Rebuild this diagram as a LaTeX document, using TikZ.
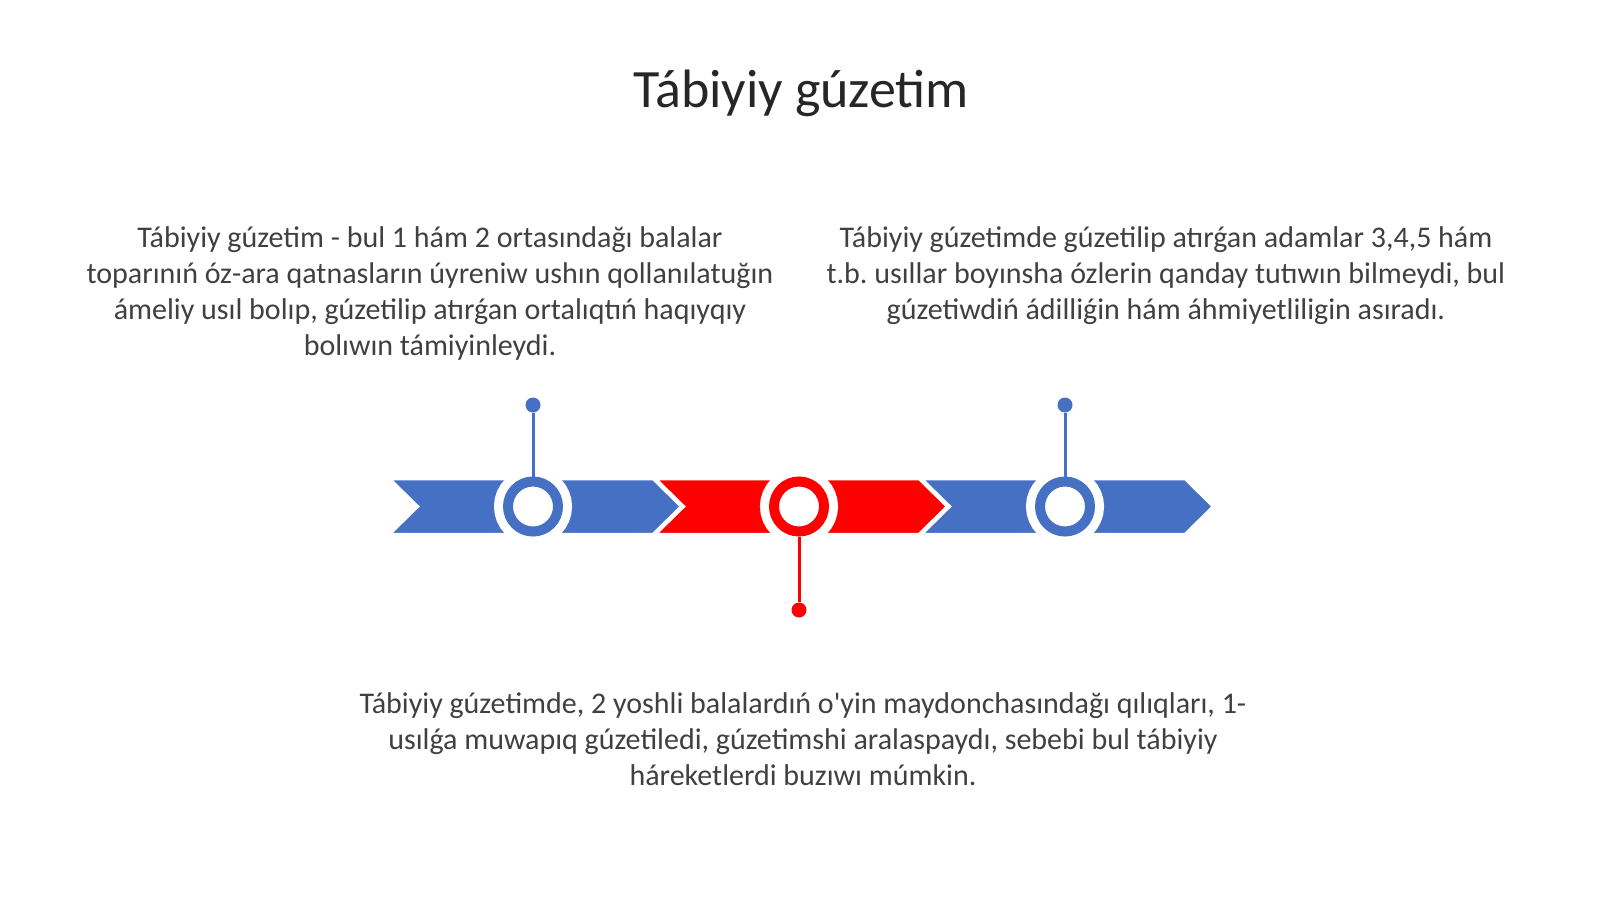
\documentclass[tikz,border=0pt]{standalone}
\usepackage{fontspec}
\setmainfont{Carlito}
\frenchspacing
\usetikzlibrary{calc}
\definecolor{tlblue}{HTML}{4570C4}
\definecolor{tlred}{HTML}{FF0000}
\definecolor{txtgray}{HTML}{404040}
\tikzset{
    ring/.style = {circle, inner sep=0pt, minimum size=50pt, line width=10pt,
        draw=#1, fill=white, preaction={draw=white, line width=28pt}},
    dot/.style = {circle, inner sep=0pt, minimum size=15pt, fill=#1},
    stem/.style = {draw=#1, line width=3pt},
    chevron/.style = {fill=#1, draw=white, line width=2.5pt, line join=miter},
    para/.style = {align=center, text=txtgray, inner sep=0pt,
        font=\fontsize{30}{35.7}\selectfont}
}

\begin{document}
\begin{tikzpicture}[x=1pt, y=-1pt]
    \useasboundingbox (0,0) rectangle (1600,899);
    % title
    \node [text=black!85, font=\fontsize{54}{60}\selectfont, inner sep=0pt] (title) at (801,93) {Tábiyiy gúzetim};
    % arrow band
    \foreach \i/\col in {0/tlblue,1/tlred,2/tlblue}{
        \pgfmathsetmacro{\xo}{390+266*\i}
        \fill [chevron=\col] (\xo,479) -- (\xo+263,479) -- (\xo+291,506.5)
            -- (\xo+263,534) -- (\xo,534) -- (\xo+28,506.5) -- cycle;
    }
    % rings and pins
    \node [ring=tlblue] (ring1) at (533,506.5) {};
    \node [ring=tlred]  (ring2) at (799,506.5) {};
    \node [ring=tlblue] (ring3) at (1065,506.5) {};
    \node [dot=tlblue] (pin1) at (533,405) {};
    \node [dot=tlred]  (pin2) at (799,610) {};
    \node [dot=tlblue] (pin3) at (1065,405) {};
    \draw [stem=tlblue] (pin1) -- (ring1);
    \draw [stem=tlred]  (ring2) -- (pin2);
    \draw [stem=tlblue] (pin3) -- (ring3);
    % texts
    \node [para] (textleft) at (430,293.5) {Tábiyiy gúzetim - bul 1 hám 2 ortasındağı balalar\\
        toparınıń óz-ara qatnasların úyreniw ushın qollanılatuğın\\
        ámeliy usıl bolıp, gúzetilip atırǵan ortalıqtıń haqıyqıy\\
        bolıwın támiyinleydi.};
    \node [para] (textright) at (1166,275.5) {Tábiyiy gúzetimde gúzetilip atırǵan adamlar 3,4,5 hám\\
        t.b. usıllar boyınsha ózlerin qanday tutıwın bilmeydi, bul\\
        gúzetiwdiń ádilliǵin hám áhmiyetliligin asıradı.};
    \node [para] (textbottom) at (803,739) {Tábiyiy gúzetimde, 2 yoshli balalardıń o\textquotesingle yin maydonchasındağı qılıqları, 1-\\
        usılǵa muwapıq gúzetiledi, gúzetimshi aralaspaydı, sebebi bul tábiyiy\\
        háreketlerdi buzıwı múmkin.};
\end{tikzpicture}
\end{document}
